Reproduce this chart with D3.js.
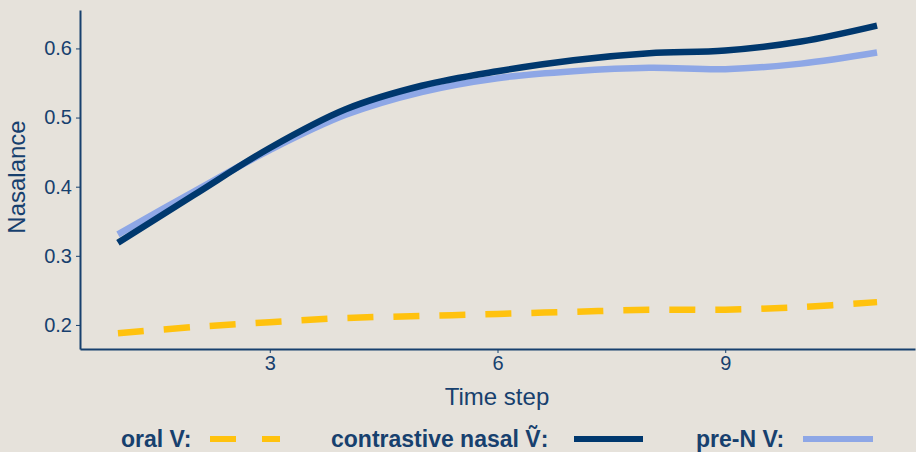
<!DOCTYPE html>
<html><head><meta charset="utf-8">
<script src="https://cdn.jsdelivr.net/npm/d3@7"></script>
<style>
html,body{margin:0;padding:0;background:#E6E2DB;}
text{font-family:"Liberation Sans",Arial,sans-serif;}
</style></head>
<body>
<svg id="c" width="916" height="452"></svg>
<script>
const timeSteps = [1,2,3,4,5,6,7,8,9,10,11];
const oralV = [0.188,0.197,0.204,0.210,0.213,0.216,0.219,0.222,0.222,0.226,0.233];
const nasalV = [0.319,0.388,0.456,0.512,0.546,0.567,0.583,0.593,0.597,0.610,0.633];
const preNV = [0.331,0.393,0.453,0.504,0.537,0.557,0.567,0.572,0.570,0.578,0.594];
const xTicks = [3,6,9];
const yTicks = [0.2,0.3,0.4,0.5,0.6];
const seriesNames = ["oral V:", "contrastive nasal \u1E7C:", "pre-N V:"];
const seriesColors = ["#FFC20E", "#00386E", "#8EA7E6"];

const navy = "#17406E";
const svg = d3.select("#c");
svg.append("rect").attr("width",916).attr("height",452).attr("fill","#E6E2DB");

const x = d3.scaleLinear().domain([0.5,11.5]).range([80,915]);
const y = d3.scaleLinear().domain([0.1652,0.6556]).range([349,10]);

// axes
const xa = svg.append("g").attr("transform","translate(0,349)")
  .call(d3.axisBottom(x).tickValues(xTicks).tickFormat(d3.format("d")).tickSize(4).tickSizeOuter(0));
const ya = svg.append("g").attr("transform","translate(80,0)")
  .call(d3.axisLeft(y).tickValues(yTicks).tickFormat(d3.format(".1f")).tickSize(4).tickSizeOuter(0));
[xa,ya].forEach(a=>{
  a.select(".domain").attr("stroke",navy).attr("stroke-width",2);
  a.selectAll(".tick line").attr("stroke",navy).attr("stroke-width",1);
  a.selectAll(".tick text").attr("fill",navy).style("font-size","20px").style("font-family","'Liberation Sans',Arial,sans-serif");
});
ya.selectAll(".tick text").attr("dx","-1px");

svg.append("text").attr("x",497).attr("y",405).attr("text-anchor","middle")
  .attr("fill",navy).style("font-size","24px").text("Time step");
svg.append("text").attr("transform","translate(25,177) rotate(-90)").attr("text-anchor","middle")
  .attr("fill",navy).style("font-size","24px").text("Nasalance");

const line = d3.line().x((d,i)=>x(timeSteps[i])).y(d=>y(d)).curve(d3.curveCatmullRom.alpha(0.5));

svg.append("path").datum(oralV).attr("d",line).attr("fill","none").attr("stroke",seriesColors[0])
  .attr("stroke-width",6.5).attr("stroke-dasharray","26,20");
svg.append("path").datum(preNV).attr("d",line).attr("fill","none").attr("stroke",seriesColors[2])
  .attr("stroke-width",6.5);
svg.append("path").datum(nasalV).attr("d",line).attr("fill","none").attr("stroke",seriesColors[1])
  .attr("stroke-width",6.5);

// legend
const leg = [
  {tx:121, kx:210, kw:70},
  {tx:331, kx:574, kw:69},
  {tx:696, kx:803, kw:70}
];
leg.forEach((l,i)=>{
  svg.append("text").attr("x",l.tx).attr("y",447).attr("fill",navy)
    .style("font-size","23px").style("font-weight","bold").text(seriesNames[i]);
  svg.append("line").attr("x1",l.kx).attr("x2",l.kx+l.kw).attr("y1",439).attr("y2",439)
    .attr("stroke",seriesColors[i]).attr("stroke-width",6)
    .attr("stroke-dasharray", i===0 ? "26,26" : null);
});
</script>
</body></html>
